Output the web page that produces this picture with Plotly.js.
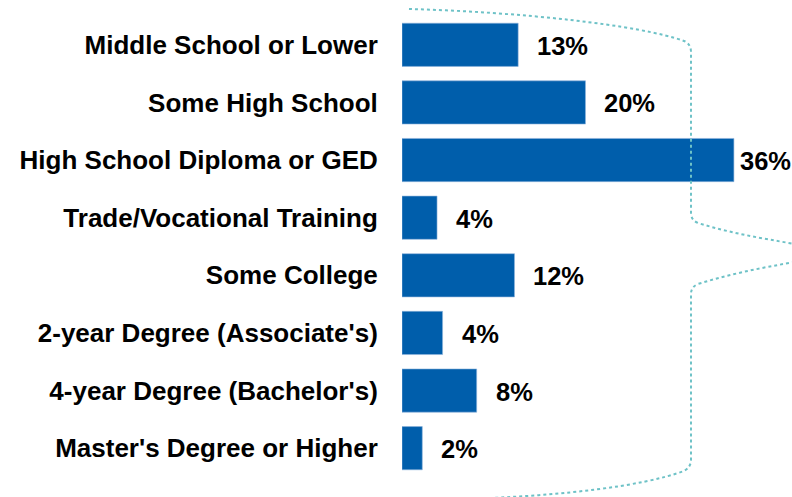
<!DOCTYPE html>
<html>
<head>
<meta charset="utf-8">
<script src="https://cdn.plot.ly/plotly-3.0.1.min.js"></script>
<style>html,body{margin:0;padding:0;background:#fff;}#chart{width:792px;height:497px;}</style>
</head>
<body>
<div id="chart"></div>
<script>
var categories = [
  "Middle School or Lower",
  "Some High School",
  "High School Diploma or GED",
  "Trade/Vocational Training",
  "Some College",
  "2-year Degree (Associate's)",
  "4-year Degree (Bachelor's)",
  "Master's Degree or Higher"
];
var values = [12.6, 19.9, 36, 3.8, 12.2, 4.4, 8.1, 2.2];
var valueLabels = ["13%", "20%", "36%", "4%", "12%", "4%", "8%", "2%"];
var labelShift = [17, 17, 4, 17, 17, 17, 17, 17];

var W = 792, H = 497, ML = 402, MR = 0, MT = 16, MB = 20;
function px(x, y) {
  var pw = W - ML - MR, ph = H - MT - MB;
  return ((x - ML) / pw).toFixed(4) + "," + ((H - MB - y) / ph).toFixed(4);
}

var tickFont = {family: "Liberation Sans, Arial, sans-serif", size: 26, color: "#000000", weight: "bold"};
var labelFont = {family: "Liberation Sans, Arial, sans-serif", size: 25.5, color: "#000000", weight: "bold"};

var annotations = categories.map(function (c, i) {
  return {
    x: values[i], y: c, xref: "x", yref: "y",
    text: valueLabels[i], showarrow: false,
    xanchor: "left", yanchor: "middle", xshift: labelShift[i], yshift: -1,
    font: labelFont
  };
});

var braceLine = {color: "#6EC2C7", width: 2, dash: "dot"};
var shapes = [
  {
    type: "path", xref: "paper", yref: "paper", layer: "above", line: braceLine,
    path: "M " + px(409, 9) + " C " + px(520, 12) + " " + px(640, 25) + " " + px(684, 41) +
          " Q " + px(691, 44) + " " + px(691, 52) +
          " L " + px(691, 213) +
          " Q " + px(691, 220) + " " + px(698, 223) +
          " C " + px(730, 233) + " " + px(760, 238) + " " + px(795, 244)
  },
  {
    type: "path", xref: "paper", yref: "paper", layer: "above", line: braceLine,
    path: "M " + px(795, 262) + " C " + px(760, 268) + " " + px(730, 274) + " " + px(698, 284) +
          " Q " + px(691, 287) + " " + px(691, 294) +
          " L " + px(691, 460) +
          " Q " + px(691, 467) + " " + px(684, 471) +
          " C " + px(640, 487) + " " + px(560, 495) + " " + px(490, 498)
  }
];

var trace = {
  type: "bar", orientation: "h",
  x: values, y: categories,
  marker: {color: "#005EAB", line: {color: "#8FB4DC", width: 0.6}},
  hoverinfo: "skip"
};

var layout = {
  width: W, height: H,
  margin: {l: ML, r: MR, t: MT, b: MB, pad: 0},
  paper_bgcolor: "#ffffff", plot_bgcolor: "#ffffff",
  bargap: 0.25,
  showlegend: false,
  xaxis: {range: [0, 42.3], visible: false, fixedrange: true},
  yaxis: {
    type: "category", categoryorder: "array", categoryarray: categories,
    autorange: "reversed",
    showgrid: false, zeroline: false, showline: false,
    ticks: "outside", ticklen: 18, tickcolor: "rgba(0,0,0,0)",
    tickfont: tickFont, automargin: false
  },
  annotations: annotations,
  shapes: shapes
};

Plotly.newPlot("chart", [trace], layout, {displayModeBar: false, staticPlot: true});
</script>
</body>
</html>
